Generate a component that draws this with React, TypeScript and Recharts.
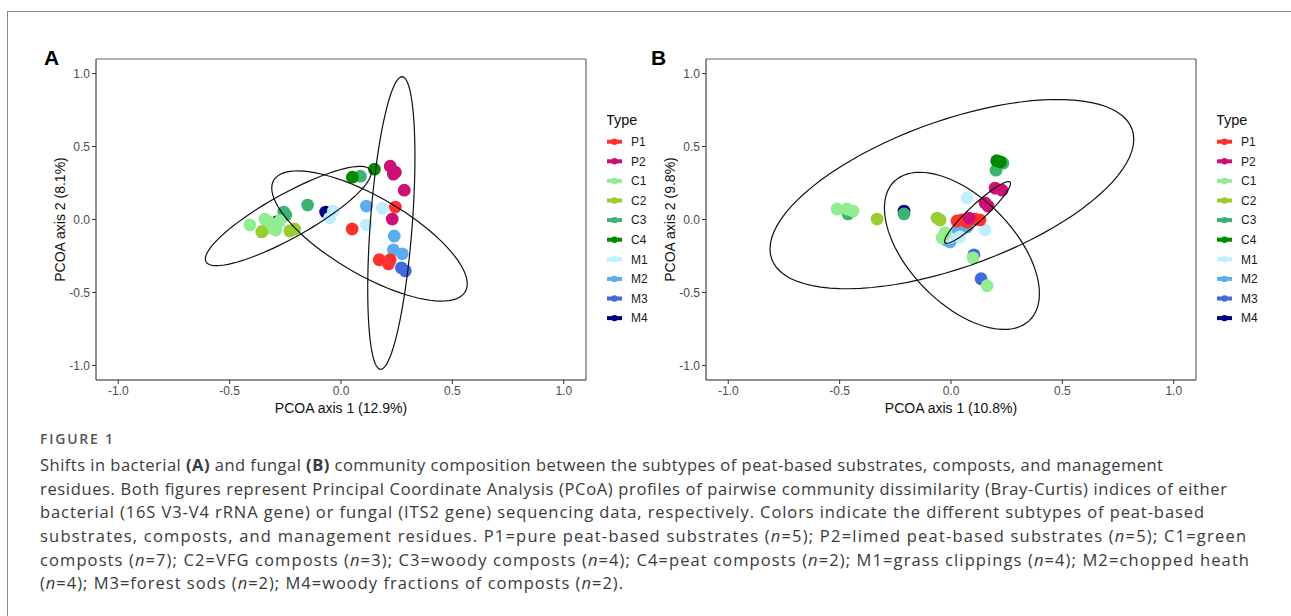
import React from "react";
import { ScatterChart, Scatter, XAxis, YAxis, ReferenceLine, Label } from "recharts";

type Pt = { x: number; y: number };
// ellipse: centre plus two conjugate semi-axes, all in data units
type Ell = { cx: number; cy: number; ax: number; ay: number; bx: number; by: number };

const types = ["P1", "P2", "C1", "C2", "C3", "C4", "M1", "M2", "M3", "M4"];
const typeColors = ["#FF3030", "#CD1076", "#90EE90", "#9ACD32", "#3CB371", "#008B00", "#BFEFFF", "#5CACEE", "#4169E1", "#000080"];
const drawOrder = ["M4", "C3", "M3", "M2", "M1", "C1", "C2", "C4", "P1", "P2"];
const axisTicks = [-1, -0.5, 0, 0.5, 1];

// A: bacteria (16S)
const bactP1: Pt[] = [{ x: 0.05, y: -0.065 }, { x: 0.244, y: 0.085 }, { x: 0.172, y: -0.276 }, { x: 0.221, y: -0.276 }, { x: 0.213, y: -0.304 }];
const bactP2: Pt[] = [{ x: 0.221, y: 0.365 }, { x: 0.244, y: 0.324 }, { x: 0.235, y: 0.311 }, { x: 0.284, y: 0.201 }, { x: 0.23, y: 0.003 }];
const bactC1: Pt[] = [{ x: -0.409, y: -0.038 }, { x: -0.342, y: 0.003 }, { x: -0.315, y: -0.058 }, { x: -0.275, y: -0.01 }, { x: -0.351, y: -0.078 }, { x: -0.293, y: -0.072 }, { x: -0.324, y: -0.017 }];
const bactC2: Pt[] = [{ x: -0.356, y: -0.085 }, { x: -0.23, y: -0.078 }, { x: -0.208, y: -0.065 }];
const bactC3: Pt[] = [{ x: -0.257, y: 0.051 }, { x: -0.248, y: 0.031 }, { x: -0.15, y: 0.099 }, { x: 0.087, y: 0.297 }];
const bactC4: Pt[] = [{ x: 0.051, y: 0.29 }, { x: 0.15, y: 0.345 }];
const bactM1: Pt[] = [{ x: -0.034, y: 0.058 }, { x: -0.051, y: 0.01 }, { x: 0.114, y: -0.038 }, { x: 0.186, y: 0.078 }];
const bactM2: Pt[] = [{ x: 0.114, y: 0.092 }, { x: 0.239, y: -0.113 }, { x: 0.235, y: -0.208 }, { x: 0.275, y: -0.235 }];
const bactM3: Pt[] = [{ x: 0.289, y: -0.352 }, { x: 0.271, y: -0.331 }];
const bactM4: Pt[] = [{ x: -0.289, y: -0.017 }, { x: -0.069, y: 0.051 }];
const bactEllipses: Ell[] = [
  { cx: 0.226, cy: -0.024, ax: -0.049, ay: -1.003, bx: 0.094, by: -0.011 },
  { cx: -0.237, cy: 0.024, ax: 0.369, ay: 0.314, bx: 0.048, by: -0.131 },
  { cx: 0.128, cy: -0.113, ax: 0.43, ay: -0.382, bx: -0.088, by: -0.23 },
];

// B: fungi (ITS2)
const fungP1: Pt[] = [{ x: 0.027, y: -0.01 }, { x: 0.049, y: -0.003 }, { x: 0.072, y: -0.017 }, { x: 0.108, y: 0.003 }, { x: 0.13, y: -0.003 }];
const fungP2: Pt[] = [{ x: 0.198, y: 0.215 }, { x: 0.229, y: 0.201 }, { x: 0.153, y: 0.113 }, { x: 0.166, y: 0.092 }, { x: 0.081, y: 0.01 }];
const fungC1: Pt[] = [{ x: -0.512, y: 0.072 }, { x: -0.467, y: 0.072 }, { x: -0.44, y: 0.058 }, { x: -0.027, y: -0.092 }, { x: -0.04, y: -0.126 }, { x: 0.099, y: -0.263 }, { x: 0.162, y: -0.454 }];
const fungC2: Pt[] = [{ x: -0.332, y: 0.003 }, { x: -0.063, y: 0.01 }, { x: -0.049, y: -0.003 }];
const fungC3: Pt[] = [{ x: 0.202, y: 0.338 }, { x: 0.233, y: 0.386 }, { x: -0.211, y: 0.038 }, { x: -0.462, y: 0.038 }];
const fungC4: Pt[] = [{ x: 0.205, y: 0.403 }, { x: 0.222, y: 0.395 }];
const fungM1: Pt[] = [{ x: 0.072, y: 0.147 }, { x: 0.153, y: -0.072 }, { x: 0.04, y: -0.119 }, { x: -0.009, y: -0.126 }];
const fungM2: Pt[] = [{ x: -0.004, y: -0.154 }, { x: 0.072, y: -0.051 }, { x: 0.031, y: -0.085 }, { x: -0.022, y: -0.14 }];
const fungM3: Pt[] = [{ x: 0.103, y: -0.242 }, { x: 0.135, y: -0.406 }];
const fungM4: Pt[] = [{ x: -0.211, y: 0.058 }, { x: -0.462, y: 0.044 }];
const fungEllipses: Ell[] = [
  { cx: 0.119, cy: 0.048, ax: 0.146, ay: 0.208, bx: 0.025, by: -0.04 },
  { cx: 0.004, cy: 0.174, ax: 0.809, ay: 0.445, bx: 0.112, by: -0.472 },
  { cx: 0.049, cy: -0.215, ax: 0.303, ay: -0.477, bx: -0.171, by: -0.25 },
];

const bactSeries = [bactP1, bactP2, bactC1, bactC2, bactC3, bactC4, bactM1, bactM2, bactM3, bactM4];
const fungSeries = [fungP1, fungP2, fungC1, fungC2, fungC3, fungC4, fungM1, fungM2, fungM3, fungM4];

function outline(e: Ell): Pt[] {
  const pts: Pt[] = [];
  for (let i = 0; i <= 90; i++) {
    const t = (i / 90) * Math.PI * 2;
    pts.push({ x: e.cx + e.ax * Math.cos(t) + e.bx * Math.sin(t), y: e.cy + e.ay * Math.cos(t) + e.by * Math.sin(t) });
  }
  return pts;
}

const fmt = (v: number) => v.toFixed(1);
const FONT = "'Liberation Sans', Arial, sans-serif";
const CAP_FONT = "'Open Sans', sans-serif";
const tickStyle = { fontSize: 12, fill: "#4d4d4d", fontFamily: FONT };

function Panel({ series, ellipses, xTitle, yTitle }: { series: Pt[][]; ellipses: Ell[]; xTitle: string; yTitle: string }) {
  return (
    <ScatterChart width={600} height={420} margin={{ top: 59, right: 14, bottom: 0, left: 0 }}>
      <XAxis type="number" dataKey="x" domain={[-1.1, 1.1]} ticks={axisTicks} allowDataOverflow tickFormatter={fmt}
        tick={tickStyle} tickSize={4} tickMargin={2} height={40} stroke="#222" tickLine={{ stroke: "#333" }}>
        <Label value={xTitle} position="insideBottom" offset={7} style={{ fontSize: 14, fill: "#111", fontFamily: FONT }} />
      </XAxis>
      <YAxis type="number" dataKey="y" domain={[-1.1, 1.1]} ticks={axisTicks} allowDataOverflow tickFormatter={fmt}
        tick={tickStyle} tickSize={4} tickMargin={2} width={96} stroke="#222" tickLine={{ stroke: "#333" }}>
        <Label value={yTitle} angle={-90} position="insideLeft" offset={60}
          style={{ fontSize: 14, fill: "#111", fontFamily: FONT, textAnchor: "middle" }} />
      </YAxis>
      <ReferenceLine y={1.1} stroke="#666" strokeWidth={1.2} />
      <ReferenceLine x={1.1} stroke="#666" strokeWidth={1.2} />
      {drawOrder.map((name) => {
        const i = types.indexOf(name);
        const col = typeColors[i];
        return (
          <Scatter key={name} name={name} data={series[i]} fill={col} isAnimationActive={false}
            shape={(p: any) => <circle cx={p.cx} cy={p.cy} r={6.4} fill={col} />} />
        );
      })}
      {ellipses.map((e, k) => (
        <Scatter key={"e" + k} data={outline(e)} isAnimationActive={false} fill="none"
          line={{ stroke: "#111", strokeWidth: 1.2 }} lineType="joint" shape={() => <g />} />
      ))}
    </ScatterChart>
  );
}

function TypeLegend({ left }: { left: number }) {
  return (
    <svg width={70} height={240} style={{ position: "absolute", left, top: 100 }}>
      <text x={-1} y={25} fontSize={14.5} fill="#111" fontFamily={FONT}>Type</text>
      {types.map((t, i) => {
        const cy = 41.7 + i * 19.6;
        return (
          <g key={t}>
            <line x1={0} x2={15} y1={cy} y2={cy} stroke={typeColors[i]} strokeWidth={4} />
            <circle cx={7.5} cy={cy} r={3.2} fill={typeColors[i]} />
            <text x={24} y={cy + 4.3} fontSize={12} fill="#1a1a1a" fontFamily={FONT}>{t}</text>
          </g>
        );
      })}
    </svg>
  );
}

const N = () => <tspan fontStyle="italic">n</tspan>;

function Caption() {
  const line = (y: number, len: number, content: React.ReactNode) => (
    <text x={40} y={y} textLength={len} lengthAdjust="spacing" fontSize={16.5} fill="#3a3a3a" fontFamily={CAP_FONT}>{content}</text>
  );
  return (
    <svg width={1291} height={200} style={{ position: "absolute", left: 0, top: 420 }}>
      <text x={40} y={24} textLength={73} lengthAdjust="spacing" fontSize={14} fontWeight={600} fill="#555" fontFamily={CAP_FONT}>FIGURE 1</text>
      {line(51, 1123, <>Shifts in bacterial <tspan fontWeight={700}>(A)</tspan> and fungal <tspan fontWeight={700}>(B)</tspan> community composition between the subtypes of peat-based substrates, composts, and management</>)}
      {line(75, 1187, <>residues. Both figures represent Principal Coordinate Analysis (PCoA) profiles of pairwise community dissimilarity (Bray-Curtis) indices of either</>)}
      {line(98, 1164, <>bacterial (16S V3-V4 rRNA gene) or fungal (ITS2 gene) sequencing data, respectively. Colors indicate the different subtypes of peat-based</>)}
      {line(122, 1206, <>substrates, composts, and management residues. P1=pure peat-based substrates (<N />=5); P2=limed peat-based substrates (<N />=5); C1=green</>)}
      {line(146, 1209, <>composts (<N />=7); C2=VFG composts (<N />=3); C3=woody composts (<N />=4); C4=peat composts (<N />=2); M1=grass clippings (<N />=4); M2=chopped heath</>)}
      {line(169, 583, <>(<N />=4); M3=forest sods (<N />=2); M4=woody fractions of composts (<N />=2).</>)}
    </svg>
  );
}

export default function App() {
  return (
    <div style={{ position: "absolute", left: 0, top: 0, width: 1291, height: 616, background: "#fff", overflow: "hidden" }}>
      <div style={{ position: "absolute", left: 7, top: 11, width: 1284, height: 1.3, background: "#8a8a8a" }} />
      <div style={{ position: "absolute", left: 7, top: 11, width: 1.3, height: 605, background: "#8a8a8a" }} />

      <div style={{ position: "absolute", left: 0, top: 0 }}>
        <Panel series={bactSeries} ellipses={bactEllipses} xTitle="PCOA axis 1 (12.9%)" yTitle="PCOA axis 2 (8.1%)" />
      </div>
      <div style={{ position: "absolute", left: 610, top: 0 }}>
        <Panel series={fungSeries} ellipses={fungEllipses} xTitle="PCOA axis 1 (10.8%)" yTitle="PCOA axis 2 (9.8%)" />
      </div>
      <TypeLegend left={607} />
      <TypeLegend left={1217} />

      <div style={{ position: "absolute", left: 44, top: 46, fontSize: 21, fontWeight: 700, fontFamily: FONT }}>A</div>
      <div style={{ position: "absolute", left: 651, top: 46, fontSize: 21, fontWeight: 700, fontFamily: FONT }}>B</div>

      <Caption />
    </div>
  );
}
